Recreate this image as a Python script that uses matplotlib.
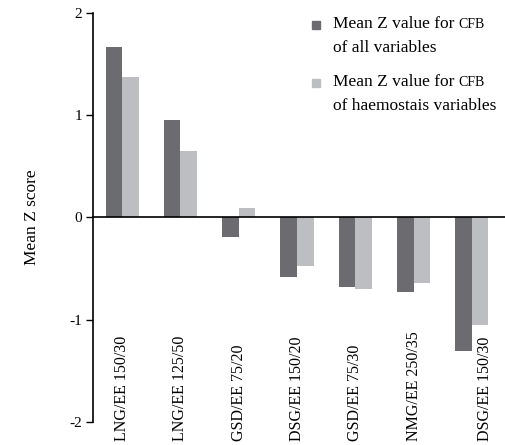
import matplotlib.pyplot as plt
import numpy as np
from matplotlib.patches import Rectangle

plt.rcParams['font.family'] = ['Liberation Serif', 'DejaVu Serif']

# groups (small caps in the original)
groups = ["LNG/EE 150/30", "LNG/EE 125/50", "GSD/EE 75/20", "DSG/EE 150/20",
          "GSD/EE 75/30", "NMG/EE 250/35", "DSG/EE 150/30"]
z_all = [1.67, 0.95, -0.19, -0.58, -0.68, -0.73, -1.31]
z_haem = [1.37, 0.65, 0.09, -0.48, -0.70, -0.64, -1.05]

dark = '#6b6b70'
light = '#bdbec1'

fig = plt.figure(figsize=(5.06, 4.45), dpi=100)
ax = fig.add_axes([0.184, 0.052, 0.814, 0.919])

x = np.arange(len(groups))
w = 0.286
ax.bar(x - w / 2, z_all, width=w, color=dark)
ax.bar(x + w / 2, z_haem, width=w, color=light)

ax.set_ylim(-2, 2)
ax.set_xlim(-0.5, len(groups) - 0.43)
ax.set_yticks([-2, -1, 0, 1, 2])
ax.set_yticklabels(['-2', '-1', '0', '1', '2'], fontsize=11)
ax.tick_params(axis='y', direction='out', length=5, width=1, pad=3)
ax.set_xticks([])

ax.spines['top'].set_visible(False)
ax.spines['right'].set_visible(False)
ax.spines['bottom'].set_position(('data', 0))
ax.spines['bottom'].set_linewidth(1.2)
ax.spines['left'].set_linewidth(1.2)

ax.set_ylabel("Mean Z score", fontsize=12.5, labelpad=21)

for i, (xi, g) in enumerate(zip(x, groups)):
    # the last label is nudged right, clear of the long dark bar
    shift = 0.22 if i == len(groups) - 1 else 0
    ax.text(xi + shift, -2.19, g, rotation=90, ha='center', va='bottom',
            fontsize=11.5, clip_on=False)

# legend drawn by hand so the swatch sits on the first line
legend_rows = [(dark, "of all variables"), (light, "of haemostais variables")]
W, H = 506.0, 445.0
for i, (col, second) in enumerate(legend_rows):
    top = 28 + i * 58
    fig.patches.append(Rectangle((312.5 / W, 1 - (top + 0.5) / H), 7.5 / W, 7.5 / H,
                                 transform=fig.transFigure, color=col))
    t1 = fig.text(333 / W, 1 - top / H, "Mean Z value for ", fontsize=12.5,
                  va='baseline', ha='left')
    ax.annotate("CFB", xy=(1, 0), xycoords=t1, xytext=(0, 2.8),
                textcoords='offset points', fontsize=10,
                ha='left', va='baseline', annotation_clip=False)
    fig.text(333 / W, 1 - (top + 23.5) / H, second, fontsize=12.5,
             va='baseline', ha='left')

fig.savefig("out.png", dpi=100)
